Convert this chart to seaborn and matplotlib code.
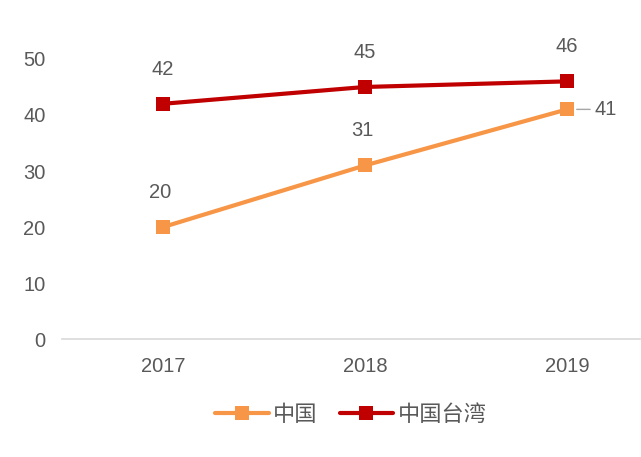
import matplotlib
matplotlib.use("Agg")
import pandas as pd
import seaborn as sns
import matplotlib.pyplot as plt

# Chart data
years = ["2017", "2018", "2019"]
china = [20, 31, 41]
taiwan = [42, 45, 46]
series_names = ["中国", "中国台湾"]

df = pd.DataFrame({
    "year": years * 2,
    "value": china + taiwan,
    "series": [series_names[0]] * 3 + [series_names[1]] * 3,
})

sns.set_style("white")
plt.rcParams["font.family"] = ["Liberation Sans", "Noto Sans CJK SC"]

text_gray = "#595959"
colors = {"中国": "#F79646", "中国台湾": "#C00000"}
fs = 14.5

fig = plt.figure(figsize=(6.41, 4.57), dpi=100)
ax = fig.add_axes([0.097, 0.258, 0.901, 0.613])

sns.lineplot(data=df, x="year", y="value", hue="series", palette=colors,
             marker="s", markersize=10, markeredgewidth=0, linewidth=3,
             sort=False, ax=ax, clip_on=False)

ax.set_ylim(0, 50)
ax.set_xlim(-0.5, 2.36)
ax.set_yticks(range(0, 51, 10))
ax.set_xlabel("")
ax.set_ylabel("")
for side in ["top", "right", "left"]:
    ax.spines[side].set_visible(False)
ax.spines["bottom"].set_color("#D9D9D9")
ax.spines["bottom"].set_linewidth(1.2)
ax.tick_params(axis="both", length=0, labelsize=fs, colors=text_gray)
ax.tick_params(axis="x", pad=13)
ax.tick_params(axis="y", pad=12)

# Data labels
for i, v in enumerate(taiwan):
    ax.annotate(str(v), (i, v), xytext=(0, 25), textcoords="offset points",
                ha="center", va="center", fontsize=fs, color=text_gray)
for i, v in enumerate(china):
    if i == len(china) - 1:
        ax.annotate(str(v), (i, v), xytext=(20, 0), textcoords="offset points",
                    ha="left", va="center", fontsize=fs, color=text_gray,
                    arrowprops=dict(arrowstyle="-", color="#A6A6A6", lw=1,
                                    shrinkA=1, shrinkB=7))
    else:
        ax.annotate(str(v), (i, v), xytext=(-2, 25), textcoords="offset points",
                    ha="center", va="center", fontsize=fs, color=text_gray)

leg = ax.legend(loc="center", bbox_to_anchor=(0.5, -0.271), ncol=2, frameon=False,
                prop={"size": 16}, handlelength=2.4, columnspacing=1.0,
                handletextpad=0.2, labelcolor=text_gray)

fig.savefig("out.png", dpi=100)
